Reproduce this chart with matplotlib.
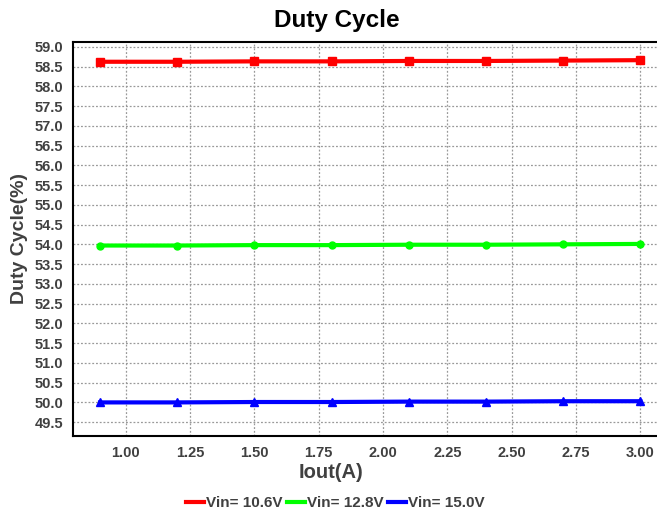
import numpy as np
import matplotlib
matplotlib.use('Agg')
import matplotlib.pyplot as plt

# ── 데이터 ──────────────────────────────────────────
iout      = [0.9, 1.2, 1.5, 1.8, 2.1, 2.4, 2.7, 3.0]
duty_106  = [58.62, 58.62, 58.63, 58.63, 58.64, 58.64, 58.65, 58.66]
duty_128  = [53.97, 53.97, 53.98, 53.98, 53.99, 53.99, 54.00, 54.01]
duty_150  = [50.00, 50.00, 50.01, 50.01, 50.02, 50.02, 50.03, 50.03]
labels    = ["Vin= 10.6V", "Vin= 12.8V", "Vin= 15.0V"]
xticks    = [1.00, 1.25, 1.50, 1.75, 2.00, 2.25, 2.50, 2.75, 3.00]
yticks    = np.arange(49.5, 59.01, 0.5)

plt.rcParams['font.family'] = ['Liberation Sans', 'DejaVu Sans']
gray = "#404040"

fig = plt.figure(figsize=(6.57, 5.13), dpi=100)
ax = fig.add_axes([73/657, 1 - 436/513, 1 - 73/657, (436 - 42)/513])

ax.plot(iout, duty_106, color="#ff0000", lw=3, marker="s", ms=6, label=labels[0])
ax.plot(iout, duty_128, color="#00ff00", lw=3, marker="o", ms=5, label=labels[1])
ax.plot(iout, duty_150, color="#0000ff", lw=3, marker="^", ms=6, label=labels[2])

ax.set_xlim(0.795, 3.065)
ax.set_ylim(49.15, 59.12)
ax.set_xticks(xticks)
ax.set_xticklabels([f"{v:.2f}" for v in xticks])
ax.set_yticks(yticks)
ax.set_yticklabels([f"{v:.1f}" for v in yticks])
ax.tick_params(length=0, labelsize=10.5, labelcolor=gray, pad=7)
for t in ax.get_xticklabels() + ax.get_yticklabels():
    t.set_fontweight("bold")

ax.grid(True, color="#999999", linestyle=(0, (1.5, 1.5)), lw=0.9)
ax.spines["right"].set_visible(False)
for s in ["left", "bottom", "top"]:
    ax.spines[s].set_linewidth(1.5)
    ax.spines[s].set_color("black")

# 제목 / x축 라벨은 그림 중앙 근처 (x≈335px)
fig.text(337/657, 1 - 20/513, "Duty Cycle", fontsize=17.5, fontweight="bold",
         ha="center", va="center")
fig.text(331/657, 1 - 473/513, "Iout(A)", fontsize=14.5, fontweight="bold",
         color=gray, ha="center", va="center")
ax.set_ylabel("Duty Cycle(%)", fontsize=14, fontweight="bold", color=gray, labelpad=5)

leg = fig.legend(loc="center", bbox_to_anchor=(335/657, 10/513), ncol=3,
                 frameon=False, handlelength=1.2, handletextpad=0.1,
                 columnspacing=0.3, prop={"weight": "bold", "size": 11})
for t in leg.get_texts():
    t.set_color(gray)
for h in leg.legend_handles:
    h.set_marker("")

fig.savefig("out.png", dpi=100)
